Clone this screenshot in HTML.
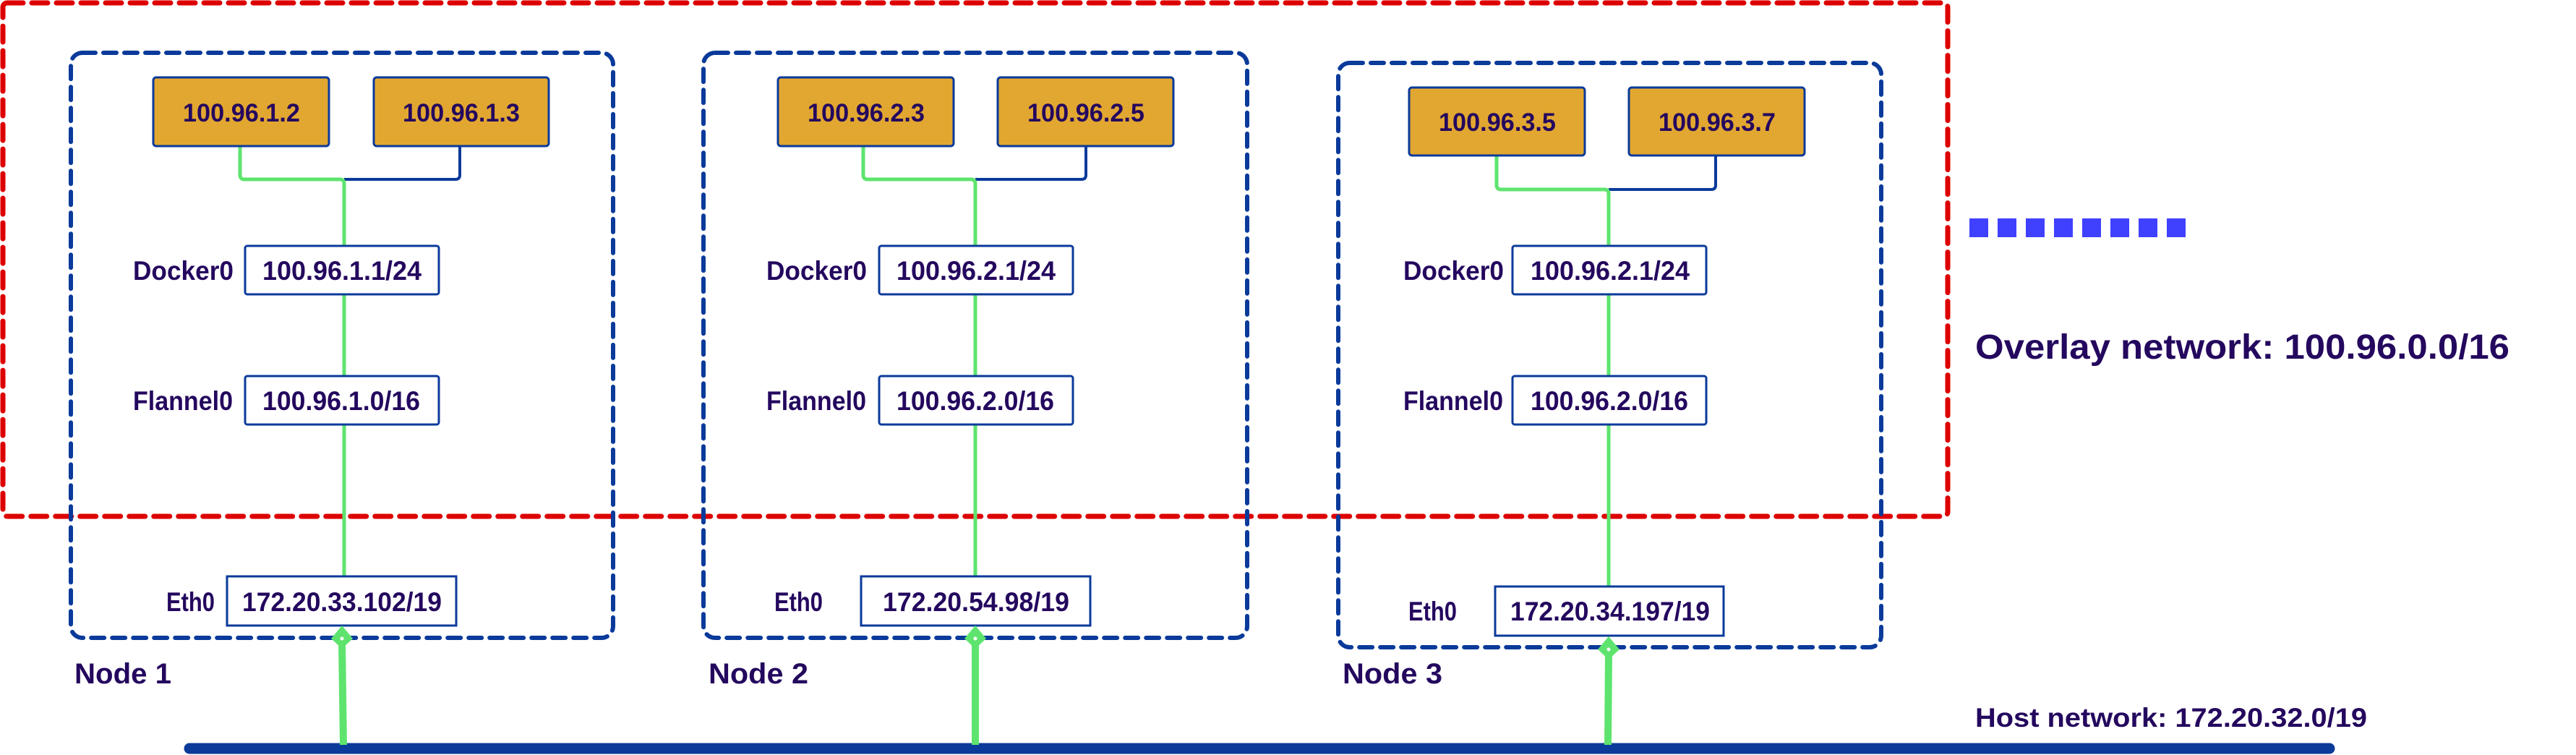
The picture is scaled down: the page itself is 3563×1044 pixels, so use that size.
<!DOCTYPE html>
<html><head><meta charset="utf-8"><style>
html,body{margin:0;padding:0;background:#fff;}
svg{display:block;}
text{font-family:"Liberation Sans",sans-serif;font-weight:bold;fill:#24085e;}
</style></head><body>
<svg width="3563" height="1044" viewBox="0 0 3563 1044" xmlns="http://www.w3.org/2000/svg">
<defs>
<g id="dia"><path d="M0,-18 L15,0 L0,14 L-15,0 Z" fill="#5ee46e"/><circle cx="0" cy="0" r="2.5" fill="#fff"/></g>
</defs>

<!-- red overlay box -->
<rect x="4" y="4" width="2690" height="710" rx="6" fill="none" stroke="#dd0000" stroke-width="7" stroke-dasharray="22 12" stroke-linecap="round"/>

<!-- host line -->
<line x1="262" y1="1035" x2="3222" y2="1035" stroke="#0a3a9a" stroke-width="15" stroke-linecap="round"/>

<!-- NODE 1 -->
<rect x="98" y="73" width="750" height="809" rx="16" fill="none" stroke="#0a3a9a" stroke-width="6" stroke-dasharray="18 11" stroke-linecap="round"/>
<path d="M636,202 V242 Q636,248 630,248 H476" fill="none" stroke="#0a3a9a" stroke-width="4"/>
<path d="M332,202 V242 Q332,248 338,248 H470 Q476,248 476,254 V797" fill="none" stroke="#5ee46e" stroke-width="5"/>
<rect x="212" y="107" width="243" height="95" rx="4" fill="#e2a730" stroke="#0a3a9a" stroke-width="3"/>
<text x="253" y="168" font-size="35" textLength="162" lengthAdjust="spacingAndGlyphs">100.96.1.2</text>
<rect x="517" y="107" width="242" height="95" rx="4" fill="#e2a730" stroke="#0a3a9a" stroke-width="3"/>
<text x="557" y="168" font-size="35" textLength="162" lengthAdjust="spacingAndGlyphs">100.96.1.3</text>
<rect x="339" y="340" width="268" height="67" rx="3" fill="#fff" stroke="#0a3a9a" stroke-width="3"/>
<text x="363" y="387" font-size="37" textLength="220" lengthAdjust="spacingAndGlyphs">100.96.1.1/24</text>
<text x="184" y="387" font-size="37" textLength="139" lengthAdjust="spacingAndGlyphs">Docker0</text>
<rect x="339" y="520" width="268" height="67" rx="3" fill="#fff" stroke="#0a3a9a" stroke-width="3"/>
<text x="363" y="567" font-size="37" textLength="218" lengthAdjust="spacingAndGlyphs">100.96.1.0/16</text>
<text x="184" y="567" font-size="37" textLength="138" lengthAdjust="spacingAndGlyphs">Flannel0</text>
<rect x="314" y="797" width="317" height="68" fill="#fff" stroke="#0a3a9a" stroke-width="3"/>
<text x="335" y="845" font-size="37" textLength="276" lengthAdjust="spacingAndGlyphs">172.20.33.102/19</text>
<text x="230" y="845" font-size="37" textLength="67" lengthAdjust="spacingAndGlyphs">Eth0</text>
<line x1="475" y1="1030" x2="473" y2="890" stroke="#5ee46e" stroke-width="10"/>
<use href="#dia" x="473" y="883"/>
<text x="103" y="945" font-size="40" textLength="134" lengthAdjust="spacingAndGlyphs">Node 1</text>

<!-- NODE 2 -->
<rect x="973" y="73" width="752" height="809" rx="16" fill="none" stroke="#0a3a9a" stroke-width="6" stroke-dasharray="18 11" stroke-linecap="round"/>
<path d="M1502,202 V242 Q1502,248 1496,248 H1349" fill="none" stroke="#0a3a9a" stroke-width="4"/>
<path d="M1194,202 V242 Q1194,248 1200,248 H1343 Q1349,248 1349,254 V797" fill="none" stroke="#5ee46e" stroke-width="5"/>
<rect x="1076" y="107" width="243" height="95" rx="4" fill="#e2a730" stroke="#0a3a9a" stroke-width="3"/>
<text x="1117" y="168" font-size="35" textLength="162" lengthAdjust="spacingAndGlyphs">100.96.2.3</text>
<rect x="1380" y="107" width="243" height="95" rx="4" fill="#e2a730" stroke="#0a3a9a" stroke-width="3"/>
<text x="1421" y="168" font-size="35" textLength="162" lengthAdjust="spacingAndGlyphs">100.96.2.5</text>
<rect x="1216" y="340" width="268" height="67" rx="3" fill="#fff" stroke="#0a3a9a" stroke-width="3"/>
<text x="1240" y="387" font-size="37" textLength="220" lengthAdjust="spacingAndGlyphs">100.96.2.1/24</text>
<text x="1060" y="387" font-size="37" textLength="139" lengthAdjust="spacingAndGlyphs">Docker0</text>
<rect x="1216" y="520" width="268" height="67" rx="3" fill="#fff" stroke="#0a3a9a" stroke-width="3"/>
<text x="1240" y="567" font-size="37" textLength="218" lengthAdjust="spacingAndGlyphs">100.96.2.0/16</text>
<text x="1060" y="567" font-size="37" textLength="138" lengthAdjust="spacingAndGlyphs">Flannel0</text>
<rect x="1191" y="797" width="317" height="68" fill="#fff" stroke="#0a3a9a" stroke-width="3"/>
<text x="1221" y="845" font-size="37" textLength="258" lengthAdjust="spacingAndGlyphs">172.20.54.98/19</text>
<text x="1071" y="845" font-size="37" textLength="67" lengthAdjust="spacingAndGlyphs">Eth0</text>
<line x1="1349" y1="1030" x2="1349" y2="890" stroke="#5ee46e" stroke-width="10"/>
<use href="#dia" x="1349" y="883"/>
<text x="980" y="945" font-size="40" textLength="138" lengthAdjust="spacingAndGlyphs">Node 2</text>

<!-- NODE 3 -->
<rect x="1851" y="87" width="751" height="808" rx="16" fill="none" stroke="#0a3a9a" stroke-width="6" stroke-dasharray="18 11" stroke-linecap="round"/>
<path d="M2373,215 V256 Q2373,262 2367,262 H2225" fill="none" stroke="#0a3a9a" stroke-width="4"/>
<path d="M2070,215 V256 Q2070,262 2076,262 H2219 Q2225,262 2225,268 V811" fill="none" stroke="#5ee46e" stroke-width="5"/>
<rect x="1949" y="121" width="243" height="94" rx="4" fill="#e2a730" stroke="#0a3a9a" stroke-width="3"/>
<text x="1990" y="181" font-size="35" textLength="162" lengthAdjust="spacingAndGlyphs">100.96.3.5</text>
<rect x="2253" y="121" width="243" height="94" rx="4" fill="#e2a730" stroke="#0a3a9a" stroke-width="3"/>
<text x="2294" y="181" font-size="35" textLength="162" lengthAdjust="spacingAndGlyphs">100.96.3.7</text>
<rect x="2092" y="340" width="268" height="67" rx="3" fill="#fff" stroke="#0a3a9a" stroke-width="3"/>
<text x="2117" y="387" font-size="37" textLength="220" lengthAdjust="spacingAndGlyphs">100.96.2.1/24</text>
<text x="1941" y="387" font-size="37" textLength="139" lengthAdjust="spacingAndGlyphs">Docker0</text>
<rect x="2092" y="520" width="268" height="67" rx="3" fill="#fff" stroke="#0a3a9a" stroke-width="3"/>
<text x="2117" y="567" font-size="37" textLength="218" lengthAdjust="spacingAndGlyphs">100.96.2.0/16</text>
<text x="1941" y="567" font-size="37" textLength="138" lengthAdjust="spacingAndGlyphs">Flannel0</text>
<rect x="2068" y="811" width="316" height="68" fill="#fff" stroke="#0a3a9a" stroke-width="3"/>
<text x="2089" y="858" font-size="37" textLength="276" lengthAdjust="spacingAndGlyphs">172.20.34.197/19</text>
<text x="1948" y="858" font-size="37" textLength="67" lengthAdjust="spacingAndGlyphs">Eth0</text>
<line x1="2224" y1="1030" x2="2225" y2="905" stroke="#5ee46e" stroke-width="10"/>
<use href="#dia" x="2225" y="898"/>
<text x="1857" y="945" font-size="40" textLength="138" lengthAdjust="spacingAndGlyphs">Node 3</text>

<!-- legend -->
<g fill="#4040ff">
<rect x="2724" y="302" width="26" height="26"/><rect x="2763" y="302" width="26" height="26"/>
<rect x="2802" y="302" width="26" height="26"/><rect x="2841" y="302" width="26" height="26"/>
<rect x="2880" y="302" width="26" height="26"/><rect x="2919" y="302" width="26" height="26"/>
<rect x="2958" y="302" width="26" height="26"/><rect x="2997" y="302" width="26" height="26"/>
</g>
<text x="2732" y="496" font-size="48" textLength="739" lengthAdjust="spacingAndGlyphs">Overlay network: 100.96.0.0/16</text>
<text x="2732" y="1005" font-size="37" textLength="542" lengthAdjust="spacingAndGlyphs">Host network: 172.20.32.0/19</text>
</svg>
</body></html>
